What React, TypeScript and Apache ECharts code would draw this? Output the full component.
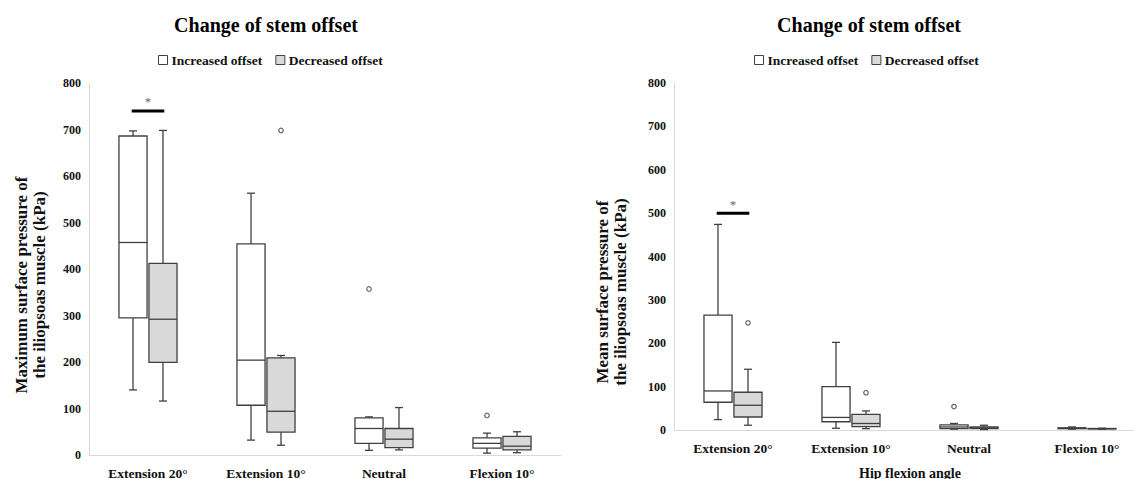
import React, { useEffect, useRef } from "react";
import * as echarts from "echarts";

const categories = ["Extension 20°", "Extension 10°", "Neutral", "Flexion 10°"];
const yTicks = { min: 0, max: 800, interval: 100 };

// [min, Q1, median, Q3, max]
const maxIncreased = [
  [140, 295, 457, 686, 697],
  [32, 107, 204, 454, 563],
  [10, 25, 57, 80, 82],
  [4, 15, 25, 37, 47],
];
const maxDecreased = [
  [116, 199, 292, 412, 698],
  [21, 49, 94, 209, 214],
  [11, 16, 34, 57, 102],
  [5, 11, 19, 40, 50],
];
const maxIncOutliers = [[2, 357], [3, 85]];
const maxDecOutliers = [[1, 698]];
const maxSig = [[0, 740]];

const meanIncreased = [
  [24, 64, 90, 265, 474],
  [4, 19, 29, 100, 202],
  [2, 3, 7, 12, 15],
  [2, 3, 4, 5, 7],
];
const meanDecreased = [
  [11, 30, 57, 87, 140],
  [3, 8, 15, 36, 44],
  [1, 3, 5, 7, 11],
  [2, 2.5, 3, 3.5, 4],
];
const meanIncOutliers = [[2, 54]];
const meanDecOutliers = [[0, 247], [1, 86]];
const meanSig = [[0, 500]];

const FONT = "Liberation Serif";
const EDGE = "#404040";
const GRAY = "#d9d9d9";

const boxRender = (side: number, fill: string) => (params: any, api: any) => {
  const cat = api.value(0);
  const bw = api.coord([1, 0])[0] - api.coord([0, 0])[0];
  const off = side * bw * 0.127;
  const half = bw * 0.119;
  const cap = 4;
  const x = api.coord([cat, 0])[0] + off;
  const y = (i: number) => api.coord([cat, api.value(i)])[1];
  const yMin = y(1), yQ1 = y(2), yMed = y(3), yQ3 = y(4), yMax = y(5);
  const ls = { stroke: EDGE, lineWidth: 1.3 };
  return {
    type: "group",
    children: [
      { type: "line", shape: { x1: x, y1: yMax, x2: x, y2: yQ3 }, style: ls },
      { type: "line", shape: { x1: x, y1: yQ1, x2: x, y2: yMin }, style: ls },
      { type: "line", shape: { x1: x - cap, y1: yMax, x2: x + cap, y2: yMax }, style: ls },
      { type: "line", shape: { x1: x - cap, y1: yMin, x2: x + cap, y2: yMin }, style: ls },
      {
        type: "rect",
        shape: { x: x - half, y: yQ3, width: half * 2, height: yQ1 - yQ3 },
        style: { fill, stroke: EDGE, lineWidth: 1.3 },
      },
      { type: "line", shape: { x1: x - half, y1: yMed, x2: x + half, y2: yMed }, style: ls },
    ],
  };
};

const sigRender = (params: any, api: any) => {
  const cat = api.value(0);
  const bw = api.coord([1, 0])[0] - api.coord([0, 0])[0];
  const [cx, cy] = api.coord([cat, api.value(1)]);
  const hw = bw * 0.138;
  return {
    type: "line",
    shape: { x1: cx - hw, y1: cy, x2: cx + hw, y2: cy },
    style: { stroke: "#000", lineWidth: 3 },
  };
};

const toBoxData = (arr: number[][]) => arr.map((v, i) => [i, ...v]);

function buildSeries(grid: number, inc: number[][], dec: number[][], incOut: number[][], decOut: number[][], sig: number[][]) {
  const enc = { x: 0, y: [1, 2, 3, 4, 5] };
  return [
    {
      type: "custom", name: "Increased offset", xAxisIndex: grid, yAxisIndex: grid,
      itemStyle: { color: "#fff", borderColor: EDGE },
      renderItem: boxRender(-1, "#fff"), encode: enc, data: toBoxData(inc),
    },
    {
      type: "custom", name: "Decreased offset", xAxisIndex: grid, yAxisIndex: grid,
      itemStyle: { color: GRAY, borderColor: EDGE },
      renderItem: boxRender(1, GRAY), encode: enc, data: toBoxData(dec),
    },
    {
      type: "scatter", name: "inc-outliers", xAxisIndex: grid, yAxisIndex: grid,
      symbol: "circle", symbolSize: 4.5, symbolOffset: [-15, 0],
      itemStyle: { color: "#fff", borderColor: EDGE, borderWidth: 1.2 }, data: incOut,
    },
    {
      type: "scatter", name: "dec-outliers", xAxisIndex: grid, yAxisIndex: grid,
      symbol: "circle", symbolSize: 4.5, symbolOffset: [15, 0],
      itemStyle: { color: "#fff", borderColor: EDGE, borderWidth: 1.2 }, data: decOut,
    },
    {
      type: "custom", name: "sig", xAxisIndex: grid, yAxisIndex: grid,
      renderItem: sigRender, encode: { x: 0, y: 1 }, data: sig,
    },
    {
      type: "scatter", name: "sig-star", xAxisIndex: grid, yAxisIndex: grid,
      symbol: "circle", symbolSize: 1, itemStyle: { color: "rgba(0,0,0,0)" },
      label: {
        show: true, formatter: "*", position: "top", distance: 2,
        color: "#333", fontFamily: FONT, fontSize: 13,
      },
      data: sig,
    },
  ];
}

const legendData = [
  { name: "Increased offset", icon: "rect", itemStyle: { color: "#fff", borderColor: EDGE, borderWidth: 1 } },
  { name: "Decreased offset", icon: "rect", itemStyle: { color: GRAY, borderColor: EDGE, borderWidth: 1 } },
];

export default function App() {
  const ref = useRef<HTMLDivElement>(null);
  useEffect(() => {
    if (!ref.current) return;
    const chart = echarts.init(ref.current, null, { renderer: "svg" });
    const axisLabel = { color: "#111", fontFamily: FONT, fontWeight: "bold" as const };
    const xAxis = (gridIndex: number, name?: string) => ({
      type: "category", gridIndex, data: categories,
      axisTick: { show: false },
      axisLine: { lineStyle: { color: GRAY, width: 1 } },
      axisLabel: { ...axisLabel, fontSize: 13.5, margin: 11 },
      name: name || "", nameLocation: "middle", nameGap: 36,
      nameTextStyle: { color: "#111", fontFamily: FONT, fontWeight: "bold", fontSize: 14 },
    });
    const yAxis = (gridIndex: number) => ({
      type: "value", gridIndex, min: yTicks.min, max: yTicks.max, interval: yTicks.interval,
      splitLine: { show: false },
      axisTick: { show: false },
      axisLine: { show: true, lineStyle: { color: GRAY, width: 1 } },
      axisLabel: { ...axisLabel, fontSize: 12, margin: 8 },
    });
    const titleStyle = { fontFamily: FONT, fontWeight: "bold", fontSize: 20, fill: "#000", align: "center", verticalAlign: "middle" };
    const nameStyle = { fontFamily: FONT, fontWeight: "bold", fontSize: 17, fill: "#111", align: "center", verticalAlign: "middle", lineHeight: 18 };
    chart.setOption({
      animation: false,
      backgroundColor: "#fff",
      grid: [
        { left: 89, top: 83, width: 472, height: 372, outerBoundsMode: "none", containLabel: false },
        { left: 674, top: 83, width: 472, height: 347, outerBoundsMode: "none", containLabel: false },
      ],
      xAxis: [xAxis(0), xAxis(1, "Hip flexion angle")],
      yAxis: [yAxis(0), yAxis(1)],
      legend: [
        {
          left: 153, top: 48, itemWidth: 9, itemHeight: 9, itemGap: 13, selectedMode: false, data: legendData,
          textStyle: { fontFamily: FONT, fontWeight: "bold", fontSize: 13.5, color: "#111", padding: [0, 0, 0, -1] },
        },
        {
          left: 749, top: 48, itemWidth: 9, itemHeight: 9, itemGap: 13, selectedMode: false, data: legendData,
          textStyle: { fontFamily: FONT, fontWeight: "bold", fontSize: 13.5, color: "#111", padding: [0, 0, 0, -1] },
        },
      ],
      graphic: [
        { type: "text", x: 266, y: 25, style: { ...titleStyle, text: "Change of stem offset" } },
        { type: "text", x: 869, y: 25, style: { ...titleStyle, text: "Change of stem offset" } },
        {
          type: "text", x: 30, y: 285, rotation: Math.PI / 2,
          style: { ...nameStyle, text: "Maximum surface pressure of\nthe iliopsoas muscle (kPa)" },
        },
        {
          type: "text", x: 611, y: 292, rotation: Math.PI / 2,
          style: { ...nameStyle, text: "Mean surface pressure of\nthe iliopsoas muscle (kPa)" },
        },
      ],
      series: [
        ...buildSeries(0, maxIncreased, maxDecreased, maxIncOutliers, maxDecOutliers, maxSig),
        ...buildSeries(1, meanIncreased, meanDecreased, meanIncOutliers, meanDecOutliers, meanSig),
      ],
    });
    return () => chart.dispose();
  }, []);
  return <div ref={ref} style={{ position: "absolute", left: 0, top: 0, width: 1134, height: 479, background: "#fff" }} />;
}
